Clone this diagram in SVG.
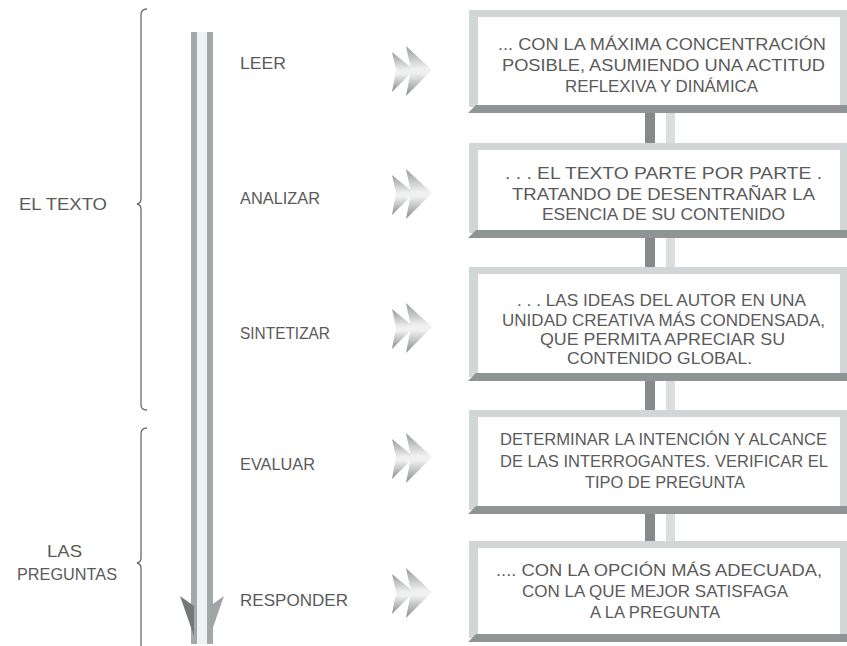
<svg xmlns="http://www.w3.org/2000/svg" width="847" height="646" viewBox="0 0 847 646">
<defs>
<style>
text{font-family:"Liberation Sans",Arial,sans-serif;font-size:16.5px;fill:#5a5a5a;}
.frame{fill:#d3d6d6;}
.inner{fill:#ffffff;}
.bar{fill:#8f9494;}
.stubd{fill:#858a8a;}
.stubl{fill:#dadede;}
.brace{fill:none;stroke:#6a6a6a;stroke-width:1.3;}
.shaft{fill:#a3a9a9;}
</style>
<linearGradient id="chev" x1="0" y1="0" x2="0" y2="1">
<stop offset="0" stop-color="#959a9a"/>
<stop offset="0.45" stop-color="#f0f0f0"/>
<stop offset="0.55" stop-color="#f0f0f0"/>
<stop offset="1" stop-color="#868b8b"/>
</linearGradient>
<g id="ff">
<path d="M0,6 L22,24 L0,46 L4,24 Z" fill="url(#chev)"/>
<path d="M14,0 L40,24 L14,50 L19,24 Z" fill="url(#chev)"/>
</g>
</defs>

<g id="connectors">
<rect class="stubd" x="645" y="113" width="10" height="30"/>
<rect class="stubl" x="666" y="113" width="9" height="30"/>
<rect class="stubd" x="645" y="238" width="10" height="29"/>
<rect class="stubl" x="666" y="238" width="9" height="29"/>
<rect class="stubd" x="645" y="381" width="10" height="29"/>
<rect class="stubl" x="666" y="381" width="9" height="29"/>
<rect class="stubd" x="645" y="514" width="10" height="27"/>
<rect class="stubl" x="666" y="514" width="9" height="27"/>
<use href="#ff" x="392" y="46"/>
<use href="#ff" x="392" y="169"/>
<use href="#ff" x="392" y="303"/>
<use href="#ff" x="392" y="433"/>
<use href="#ff" x="392" y="568"/>
</g>

<g id="flow-arrow">
<rect x="197" y="32" width="10" height="612" fill="#eef2f2"/>
<rect class="shaft" x="191" y="32" width="6" height="612"/>
<rect class="shaft" x="207" y="32" width="6" height="612"/>
<path d="M180,596 L194,606 L194,636 Z" fill="#737979"/>
<path d="M224,596 L210,606 L210,636 Z" fill="#a0a6a6"/>
</g>

<g id="brace-texto">
<path class="brace" d="M147,9 Q141,9 141,15 L141,199 Q141,203 137,204 Q141,205 141,209 L141,405 Q141,410 147,410"/>
<text x="19" y="210" textLength="88" lengthAdjust="spacingAndGlyphs">EL TEXTO</text>
</g>

<g id="brace-preguntas">
<path class="brace" d="M147,428 Q141,428 141,434 L141,558 Q141,562 137,563 Q141,564 141,568 L141,646"/>
<text x="47" y="557" textLength="35" lengthAdjust="spacingAndGlyphs">LAS</text>
<text x="17" y="580" textLength="100" lengthAdjust="spacingAndGlyphs">PREGUNTAS</text>
</g>

<g id="leer"><text x="240" y="69" textLength="46" lengthAdjust="spacingAndGlyphs">LEER</text></g>
<g id="analizar"><text x="240" y="204" textLength="80" lengthAdjust="spacingAndGlyphs">ANALIZAR</text></g>
<g id="sintetizar"><text x="240" y="339" textLength="90" lengthAdjust="spacingAndGlyphs">SINTETIZAR</text></g>
<g id="evaluar"><text x="240" y="470" textLength="75" lengthAdjust="spacingAndGlyphs">EVALUAR</text></g>
<g id="responder"><text x="240" y="606" textLength="108" lengthAdjust="spacingAndGlyphs">RESPONDER</text></g>

<g id="box1">
<rect class="frame" x="469" y="10" width="378" height="97"/>
<rect class="inner" x="478" y="17" width="362" height="88"/>
<path class="bar" d="M476,105 L847,105 L847,113 L468,113 Z"/>
<text x="498" y="50" textLength="328" lengthAdjust="spacingAndGlyphs">... CON LA MÁXIMA CONCENTRACIÓN</text>
<text x="502" y="71" textLength="323" lengthAdjust="spacingAndGlyphs">POSIBLE, ASUMIENDO UNA ACTITUD</text>
<text x="565" y="92" textLength="193" lengthAdjust="spacingAndGlyphs">REFLEXIVA Y DINÁMICA</text>
</g>

<g id="box2">
<rect class="frame" x="469" y="143" width="378" height="90"/>
<rect class="inner" x="478" y="150" width="362" height="80"/>
<path class="bar" d="M476,230 L847,230 L847,238 L468,238 Z"/>
<text x="505" y="179" textLength="317" lengthAdjust="spacingAndGlyphs">. . .  EL TEXTO  PARTE  POR  PARTE .</text>
<text x="512" y="200" textLength="303" lengthAdjust="spacingAndGlyphs">TRATANDO  DE  DESENTRAÑAR LA</text>
<text x="542" y="220" textLength="243" lengthAdjust="spacingAndGlyphs">ESENCIA DE SU CONTENIDO</text>
</g>

<g id="box3">
<rect class="frame" x="469" y="267" width="378" height="110"/>
<rect class="inner" x="478" y="274" width="362" height="99"/>
<path class="bar" d="M476,373 L847,373 L847,381 L468,381 Z"/>
<text x="517" y="306" textLength="289" lengthAdjust="spacingAndGlyphs">. . . LAS IDEAS DEL AUTOR EN UNA</text>
<text x="502" y="326" textLength="323" lengthAdjust="spacingAndGlyphs">UNIDAD CREATIVA MÁS CONDENSADA,</text>
<text x="540" y="345" textLength="245" lengthAdjust="spacingAndGlyphs">QUE PERMITA APRECIAR SU</text>
<text x="567" y="364" textLength="185" lengthAdjust="spacingAndGlyphs">CONTENIDO GLOBAL.</text>
</g>

<g id="box4">
<rect class="frame" x="469" y="410" width="378" height="100"/>
<rect class="inner" x="478" y="417" width="362" height="89"/>
<path class="bar" d="M476,506 L847,506 L847,514 L468,514 Z"/>
<text x="500" y="445" textLength="327" lengthAdjust="spacingAndGlyphs">DETERMINAR LA INTENCIÓN Y ALCANCE</text>
<text x="500" y="467" textLength="328" lengthAdjust="spacingAndGlyphs">DE LAS INTERROGANTES.  VERIFICAR EL</text>
<text x="585" y="488" textLength="160" lengthAdjust="spacingAndGlyphs">TIPO DE PREGUNTA</text>
</g>

<g id="box5">
<rect class="frame" x="469" y="541" width="378" height="97"/>
<rect class="inner" x="478" y="548" width="362" height="86"/>
<path class="bar" d="M476,634 L847,634 L847,642 L468,642 Z"/>
<text x="496" y="576" textLength="326" lengthAdjust="spacingAndGlyphs">.... CON  LA  OPCIÓN  MÁS  ADECUADA,</text>
<text x="522" y="597" textLength="266" lengthAdjust="spacingAndGlyphs">CON  LA  QUE  MEJOR SATISFAGA</text>
<text x="590" y="618" textLength="130" lengthAdjust="spacingAndGlyphs">A LA PREGUNTA</text>
</g>
</svg>
